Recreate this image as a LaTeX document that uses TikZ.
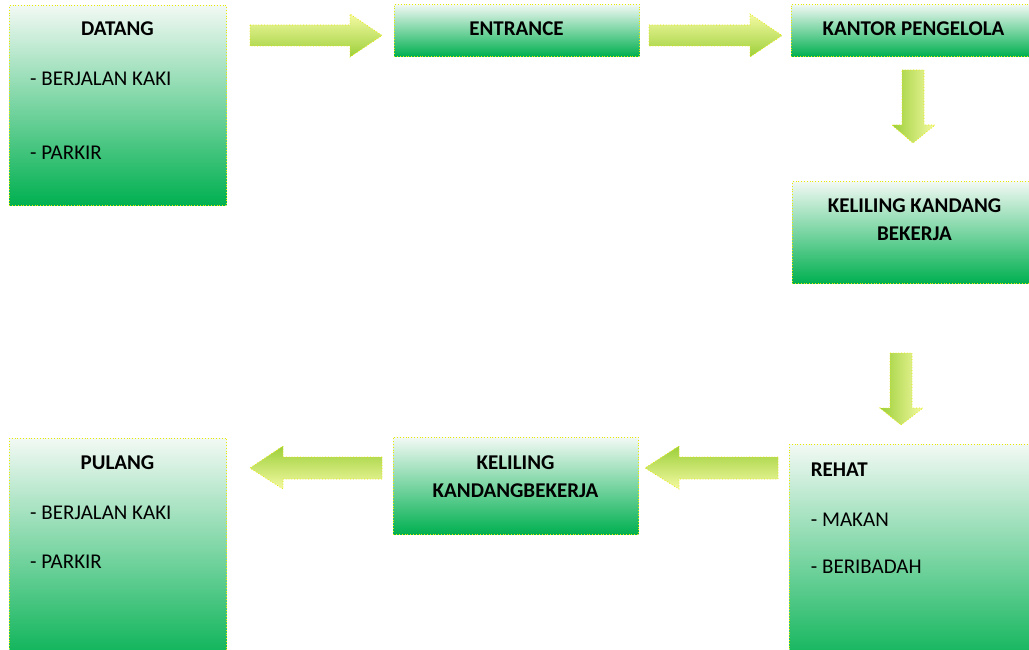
\documentclass[tikz,border=0pt]{standalone}
\usepackage{fontspec}
\setmainfont{Carlito}
\definecolor{boxtop}{HTML}{F2F9F4}
\definecolor{boxbot}{HTML}{00B050}
\definecolor{arrlight}{HTML}{F4FAA2}
\definecolor{arrdark}{HTML}{9CCF3A}
\definecolor{dotline}{HTML}{E8E800}
\tikzset{
  flowbox/.style={draw=dotline, dotted, line width=0.8pt, top color=boxtop, bottom color=boxbot, minimum width=#1, anchor=north west, inner sep=0pt},
  listtext/.style={font=\fontsize{21}{25}\selectfont, inner sep=0pt, anchor=base west},
  titletext/.style={font=\bfseries\fontsize{21}{25}\selectfont, inner sep=0pt, anchor=base},
  blockarrow/.style={draw=dotline, dotted, line width=0.8pt}
}
\begin{document}
\begin{tikzpicture}[x=1pt,y=-1pt]
\useasboundingbox (0,0) rectangle (1029,650);
\clip (0,0) rectangle (1029,650);
% boxes
\node[flowbox=217, minimum height=200] (datang) at (9,5) {};
\node[flowbox=245, minimum height=52] (entrance) at (394,4) {};
\node[flowbox=245, minimum height=52] (kantor) at (791,4) {};
\node[flowbox=245, minimum height=102] (keliling1) at (792,181) {};
\node[flowbox=245, minimum height=230] (rehat) at (789,444) {};
\node[flowbox=245, minimum height=97] (keliling2) at (393,437) {};
\node[flowbox=217, minimum height=230] (pulang) at (9,438) {};
% texts
\node[titletext] (tdatang) at (117.5,35.7) {DATANG};
\node[listtext] (d1) at (30,86) {- BERJALAN KAKI};
\node[listtext] (d2) at (30,159.3) {- PARKIR};
\node[titletext] (tentrance) at (516.5,35.7) {ENTRANCE};
\node[titletext] (tkantor) at (913.5,35.7) {KANTOR PENGELOLA};
\node[titletext] (tk1a) at (914.5,212.7) {KELILING KANDANG};
\node[titletext] (tk1b) at (914.5,240.7) {BEKERJA};
\node[titletext, anchor=base west] (trehat) at (810.7,476.7) {REHAT};
\node[listtext] (r1) at (810.7,526) {- MAKAN};
\node[listtext] (r2) at (810.7,573.3) {- BERIBADAH};
\node[titletext] (tk2a) at (515.5,469.3) {KELILING};
\node[titletext] (tk2b) at (515.5,497.7) {KANDANGBEKERJA};
\node[titletext] (tpulang) at (117.5,469.3) {PULANG};
\node[listtext] (p1) at (30,519.3) {- BERJALAN KAKI};
\node[listtext] (p2) at (30,568.3) {- PARKIR};
% block arrows
\shade[blockarrow, top color=arrlight, bottom color=arrdark]
  (250,25) -- (350,25) -- (350,14) -- (382,35.5) -- (350,57) -- (350,46) -- (250,46) -- cycle;
\shade[blockarrow, top color=arrlight, bottom color=arrdark]
  (649,25) -- (750,25) -- (750,14) -- (782,35.5) -- (750,57) -- (750,46) -- (649,46) -- cycle;
\shade[blockarrow, left color=arrdark, right color=arrlight]
  (902,70) -- (924,70) -- (924,125) -- (935,125) -- (913,143) -- (892,125) -- (902,125) -- cycle;
\shade[blockarrow, left color=arrdark, right color=arrlight]
  (890,353) -- (912,353) -- (912,408) -- (923,408) -- (901,425) -- (880,408) -- (890,408) -- cycle;
\shade[blockarrow, top color=arrdark, bottom color=arrlight]
  (382,457) -- (283,457) -- (283,446) -- (250,468) -- (283,489) -- (283,479) -- (382,479) -- cycle;
\shade[blockarrow, top color=arrdark, bottom color=arrlight]
  (778,457) -- (679,457) -- (679,446) -- (645,468) -- (679,489) -- (679,479) -- (778,479) -- cycle;
\end{tikzpicture}
\end{document}
